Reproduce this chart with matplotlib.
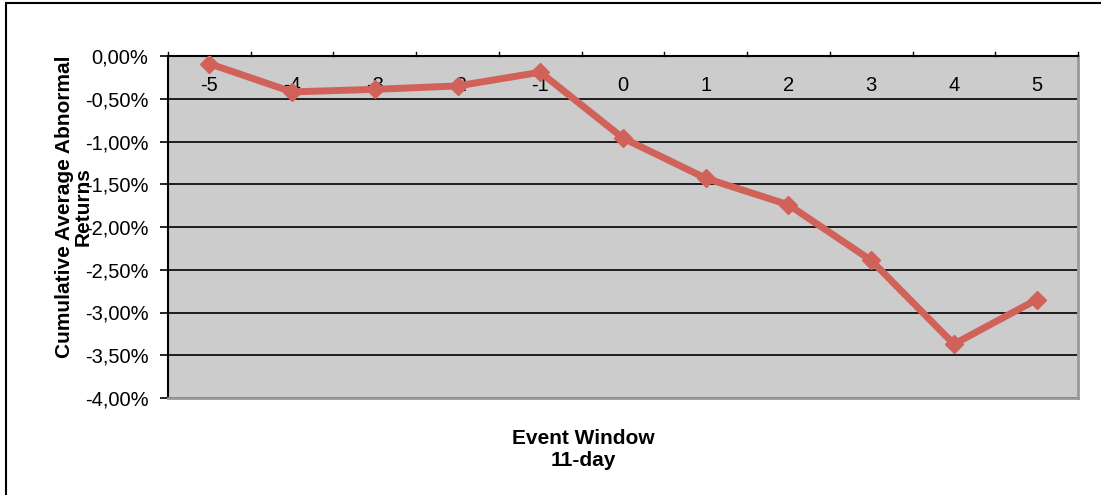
import numpy as np
import matplotlib.pyplot as plt
from matplotlib.patches import Rectangle

plt.rcParams['font.family'] = ['Liberation Sans', 'DejaVu Sans']

# event days and cumulative average abnormal returns (in %)
days = [-5, -4, -3, -2, -1, 0, 1, 2, 3, 4, 5]
caar = [-0.09, -0.42, -0.39, -0.35, -0.19, -0.96, -1.43, -1.74, -2.39, -3.37, -2.85]
y_ticks = [0, -0.5, -1, -1.5, -2, -2.5, -3, -3.5, -4]

W, H = 1101, 495
fig = plt.figure(figsize=(W / 100, H / 100), dpi=100)

# outer frame (only left and top edges inside the picture)
fig.patches.append(Rectangle((6 / W, -0.1), 1.2, (H - 3) / H + 0.1,
                             transform=fig.transFigure, fill=False,
                             edgecolor='black', linewidth=1.5))

left, right, top, bottom = 168, 1078, 56, 398
ax = fig.add_axes([left / W, 1 - bottom / H, (right - left) / W, (bottom - top) / H])
ax.set_facecolor('#cccccc')

x = np.arange(len(days))
ax.plot(x, caar, color='#d0625a', linewidth=5, marker='D', markersize=9,
        solid_joinstyle='round', zorder=3)

ax.set_xlim(-0.5, len(days) - 0.5)
ax.set_ylim(-4, 0)
ax.set_yticks(y_ticks)
ax.set_yticklabels([('%.2f%%' % v).replace('.', ',') for v in y_ticks], fontsize=14.5)
ax.yaxis.grid(True, color='black', linewidth=1.2)
ax.set_axisbelow(True)
ax.tick_params(axis='y', direction='out', length=6, width=1.2, pad=8)

# x axis runs along the top, labels sit just inside the plot
ax.set_xticks(x)
ax.set_xticklabels([str(d) for d in days], fontsize=14.5)
ax.tick_params(axis='x', length=0, pad=-28)
ax.xaxis.set_ticks_position('top')
for b in np.arange(-0.5, len(days), 1):
    ax.plot([b, b], [0, 0.05], color='black', linewidth=1, clip_on=False)

ax.spines['top'].set_color('black')
ax.spines['top'].set_linewidth(1.5)
ax.spines['left'].set_color('black')
ax.spines['left'].set_linewidth(1.5)
ax.spines['right'].set_color('#999999')
ax.spines['right'].set_linewidth(2)
ax.spines['bottom'].set_color('#999999')
ax.spines['bottom'].set_linewidth(2)

fig.text(74 / W, 1 - 207 / H, 'Cumulative Average Abnormal\nReturns', rotation=90,
         ha='center', va='center', fontsize=15, fontweight='bold', linespacing=0.95)
fig.text(583 / W, 1 - 449 / H, 'Event Window\n11-day', ha='center', va='center',
         fontsize=15, fontweight='bold', linespacing=1.2)

fig.savefig('out.png', dpi=100)
